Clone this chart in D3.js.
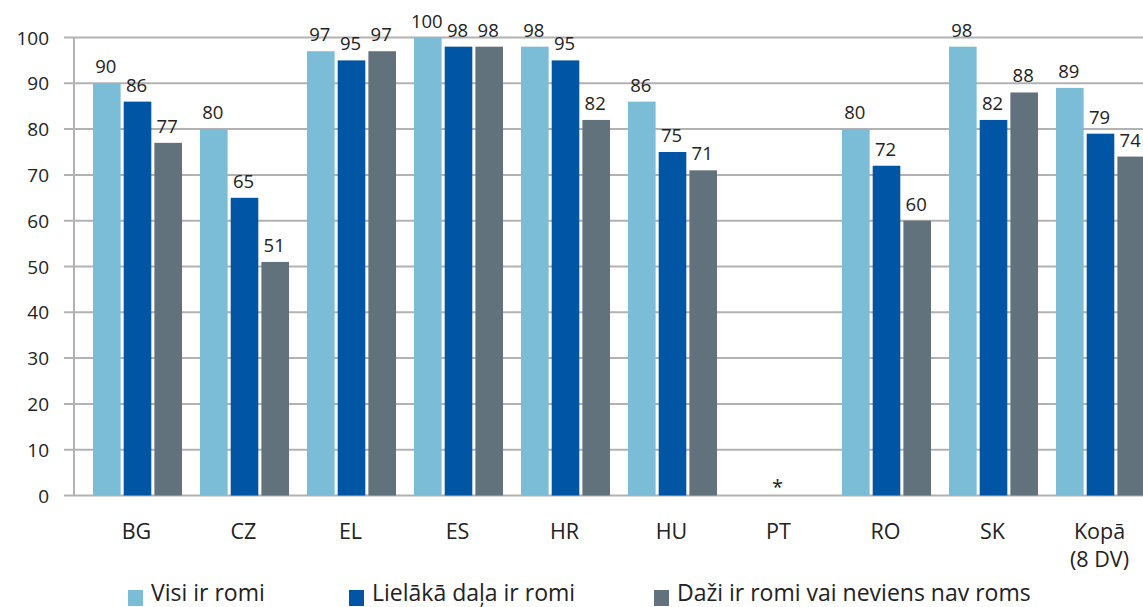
<!DOCTYPE html>
<html><head><meta charset="utf-8">
<script src="https://cdn.jsdelivr.net/npm/d3@7"></script>
<style>body{margin:0;background:#fff}svg{display:block}</style>
</head><body><svg id="c" width="1143" height="607"></svg>
<script>
const categories = ["BG","CZ","EL","ES","HR","HU","PT","RO","SK","Kopā\n(8 DV)"];
const seriesNames = ["Visi ir romi","Lielākā daļa ir romi","Daži ir romi vai neviens nav roms"];
const visi =     [90, 80, 97, 100, 98, 86, null, 80, 98, 89];
const lielaka =  [86, 65, 95, 98, 95, 75, null, 72, 82, 79];
const dazi =     [77, 51, 97, 98, 82, 71, null, 60, 88, 74];
const yTicks = [0,10,20,30,40,50,60,70,80,90,100];
const missingMark = "*";
const colors = ["#7bbcd7","#0055a4","#62727c"];
const series = [visi, lielaka, dazi];

const font = "'Open Sans', sans-serif";
const svg = d3.select("#c");
const y = d3.scaleLinear().domain([0,100]).range([495.5,37.5]);
const x = d3.scaleBand().domain(categories).range([84,1154]).paddingInner(0).paddingOuter(0);
const xs = d3.scaleBand().domain([0,1,2]).range([9,98]).paddingInner(0.1);

// gridlines
svg.append("g").selectAll("line").data(yTicks).join("line")
  .attr("x1",64).attr("x2",1143).attr("y1",d=>y(d)).attr("y2",d=>y(d))
  .attr("stroke","#b2b2b2").attr("stroke-width",2);
svg.append("line").attr("x1",74).attr("x2",74).attr("y1",y(100)).attr("y2",y(0))
  .attr("stroke","#b2b2b2").attr("stroke-width",2);

// y axis labels
const yAxis = d3.axisLeft(y).tickValues(yTicks).tickSize(0).tickPadding(0);
const ga = svg.append("g").attr("transform","translate(49,0)").call(yAxis);
ga.select(".domain").remove();
ga.selectAll("text").attr("font-family",font).attr("font-size",19).attr("fill","#222").attr("dy","0.35em");

// bars
categories.forEach((c,i)=>{
  const g = svg.append("g").attr("transform",`translate(${x(c)},0)`);
  series.forEach((s,k)=>{
    const v = s[i];
    if (v==null) return;
    g.append("rect").attr("x",xs(k)).attr("width",xs.bandwidth())
      .attr("y",y(v)).attr("height",y(0)-y(v)).attr("fill",colors[k]);
    g.append("text").attr("x",xs(k)+xs.bandwidth()/2-1).attr("y",y(v)-10)
      .attr("text-anchor","middle").attr("font-family",font).attr("font-size",18.5)
      .attr("fill","#222").text(v);
  });
  if (series.every(s=>s[i]==null)) {
    g.append("text").attr("x",x.bandwidth()/2-2).attr("y",y(0)-2).attr("text-anchor","middle")
      .attr("font-family",font).attr("font-size",20).attr("fill","#222").text(missingMark);
  }
  const lines = c.split("\n");
  lines.forEach((l,j)=>{
    g.append("text").attr("x",x.bandwidth()/2-1).attr("y",539+j*28).attr("text-anchor","middle")
      .attr("font-family",font).attr("font-size",21.5).attr("fill","#222").text(l);
  });
});

// legend
const legX = [128,349,654];
seriesNames.forEach((n,k)=>{
  svg.append("rect").attr("x",legX[k]).attr("y",590).attr("width",15).attr("height",16).attr("fill",colors[k]);
  svg.append("text").attr("x",legX[k]+23).attr("y",601).attr("font-family",font).attr("font-size",23)
    .attr("fill","#222").text(n);
});
</script></body></html>
